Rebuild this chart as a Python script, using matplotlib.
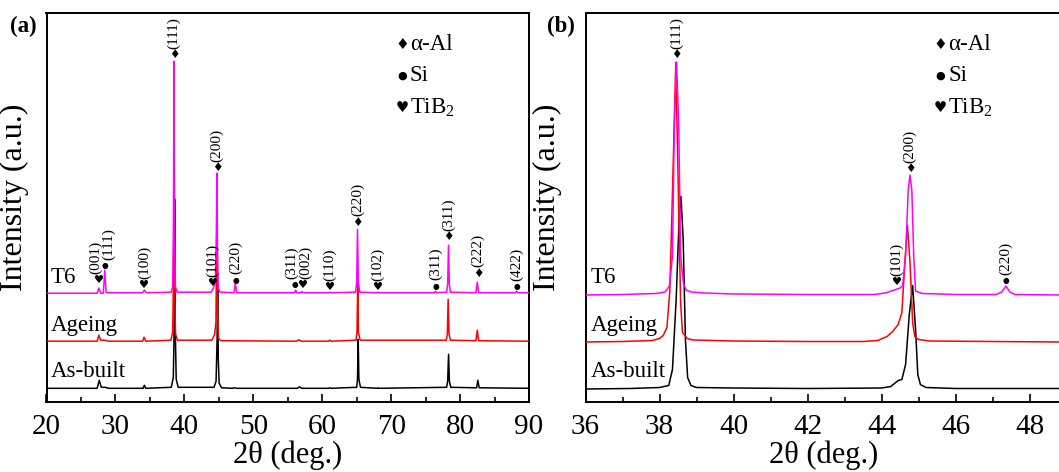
import matplotlib
matplotlib.use('Agg')
import matplotlib.pyplot as plt
from matplotlib.ticker import MultipleLocator
import matplotlib.transforms as mtransforms

plt.rcParams['font.family'] = ['Liberation Serif', 'DejaVu Sans']
plt.rcParams['mathtext.default'] = 'regular'

# ---------------- panel (a): full scan, 20-90 deg ----------------
a_t6_x = [20.0, 27.35, 27.6, 27.85, 28.25, 28.45, 28.65, 33.95, 34.2, 34.45,
          38.1, 38.3, 38.42, 38.5, 38.58, 38.7, 38.95, 43.9, 44.2, 44.5,
          44.62, 44.72, 44.8, 44.92, 45.2, 47.2, 47.4, 47.6, 56.0, 56.15,
          56.3, 56.9, 57.05, 57.25, 60.9, 61.1, 61.3, 64.85, 65.0, 65.12,
          65.24, 65.45, 67.9, 68.1, 68.3, 76.3, 76.45, 76.6, 78.05, 78.2,
          78.32, 78.44, 78.6, 82.3, 82.5, 82.7, 88.05, 88.2, 88.4, 90.0]
a_t6_y = [1, 1, 6, 1, 1, 24, 1.5, 1.5, 4, 1.5,
          2, 8, 60, 233, 60, 8, 2, 2, 6, 12,
          50, 121, 50, 6, 2, 1.5, 11, 1.5, 1.5, 4,
          1.5, 1.5, 2.5, 1.5, 1.5, 2, 1.5, 2, 12, 65,
          12, 2, 1.5, 2, 1.5, 1.5, 3, 1.5, 2, 10,
          49, 10, 2, 1.5, 12, 1.5, 1.5, 3, 1.5, 1.5]

a_age_x = [20.0, 27.35, 27.6, 27.85, 28.4, 29.0, 33.95, 34.15, 34.4, 38.05,
           38.3, 38.42, 38.5, 38.58, 38.72, 39.0, 44.0, 44.4, 44.58, 44.7,
           44.8, 44.95, 45.3, 56.3, 56.6, 56.9, 60.9, 61.1, 61.3, 64.9,
           65.05, 65.15, 65.25, 65.5, 78.0, 78.15, 78.27, 78.4, 78.6, 82.3,
           82.5, 82.7, 90.0]
a_age_y = [1, 1, 7, 2, 2, 1, 1, 5, 1, 2,
           10, 60, 254, 60, 8, 2, 2, 8, 20, 111,
           30, 4, 1.5, 1, 2.5, 1, 1, 2, 1, 2,
           10, 60, 10, 2, 2, 8, 43, 8, 2, 1.5,
           12, 1.5, 1]

a_ab_x = [20.0, 27.35, 27.65, 27.95, 28.5, 29.0, 34.0, 34.2, 34.4, 38.1,
          38.4, 38.52, 38.6, 38.68, 38.82, 39.1, 44.3, 44.6, 44.75, 44.83,
          44.92, 45.05, 45.4, 47.0, 47.3, 47.6, 56.4, 56.7, 57.0, 60.9,
          61.1, 61.3, 65.0, 65.12, 65.22, 65.32, 65.55, 68.0, 68.1, 68.2,
          78.05, 78.2, 78.33, 78.45, 78.65, 82.4, 82.58, 82.78, 90.0]
a_ab_y = [1, 1, 9, 2, 2, 1, 1, 4, 1, 2,
          12, 60, 190, 60, 10, 2, 2, 8, 50, 105,
          30, 6, 1.5, 1, 1.5, 1, 1, 2.5, 1, 1,
          1.5, 1, 2, 10, 50, 10, 2, 1, 1.5, 1,
          2, 8, 35, 8, 2, 1.5, 9, 1.5, 1]

# ---------------- panel (b): zoom, 36-49 deg ----------------
b_t6_x = [36.0, 37.0, 37.9, 38.15, 38.27, 38.35, 38.4, 38.46, 38.52, 38.57,
          38.65, 38.72, 38.85, 39.2, 40.0, 42.0, 43.8, 44.1, 44.35, 44.5,
          44.57, 44.65, 44.72, 44.77, 44.82, 44.87, 44.92, 45.1, 46.0, 47.1,
          47.25, 47.36, 47.47, 47.6, 48.85]
b_t6_y = [1, 1.5, 2.5, 4, 10, 40, 170, 234, 170, 40,
          12, 6, 4, 3, 2, 1.5, 1.5, 3, 6, 8,
          10, 40, 105, 121, 105, 40, 5, 2.5, 1.5, 1.5,
          4, 10, 4, 1.5, 1]

b_age_x = [36.0, 37.0, 37.8, 38.0, 38.1, 38.2, 38.28, 38.35, 38.44, 38.51,
           38.57, 38.62, 38.75, 38.9, 40.0, 42.0, 43.5, 43.9, 44.15, 44.3,
           44.45, 44.55, 44.63, 44.7, 44.77, 44.84, 44.9, 45.0, 45.3, 47.0,
           48.85]
b_age_y = [0.5, 1, 2, 4, 7, 15, 52, 150, 280, 150,
           40, 10, 4, 2.5, 1.5, 1, 1, 2, 6, 11,
           18, 30, 80, 117, 80, 20, 6, 3, 1.5, 1,
           0.5]

b_ab_x = [36.0, 37.2, 37.6, 38.0, 38.25, 38.35, 38.45, 38.53, 38.58, 38.64,
          38.7, 38.76, 38.85, 39.0, 40.0, 42.0, 44.0, 44.25, 44.45, 44.55,
          44.65, 44.75, 44.84, 44.92, 44.98, 45.05, 45.2, 46.0, 48.85]
b_ab_y = [0.5, 1, 1.5, 2, 4, 20, 90, 170, 193, 150,
          50, 12, 4, 2, 1.5, 1, 1.5, 3, 9, 10,
          25, 75, 104, 60, 15, 5, 2, 1, 1]

sample_names = ['As-built', 'Ageing', 'T6']
sample_colors = ['black', '#FF0000', '#FF00FF']
offsets_a = [12.4, 59.5, 107.5]
offsets_b = [12.2, 59.2, 105.7]

# peak labels: (2theta, phase, hkl, marker height, label 2theta)
peaks_a = [
    (38.5, 'Al', '(111)', 346.7, 38.5),
    (44.75, 'Al', '(200)', 234.0, 44.75),
    (65.15, 'Al', '(220)', 179.7, 65.15),
    (78.35, 'Al', '(311)', 165.0, 78.35),
    (82.6, 'Al', '(222)', 128.4, 82.6),
    (28.45, 'Si', '(111)', 136.0, 28.95),
    (47.45, 'Si', '(220)', 121.7, 47.45),
    (56.1, 'Si', '(311)', 116.7, 55.5),
    (76.45, 'Si', '(311)', 115.7, 76.45),
    (88.2, 'Si', '(422)', 115.0, 88.2),
    (27.55, 'TiB2', '(001)', 121.7, 27.2),
    (34.2, 'TiB2', '(100)', 116.7, 34.3),
    (44.15, 'TiB2', '(101)', 119.0, 44.15),
    (57.15, 'TiB2', '(002)', 116.7, 57.6),
    (61.1, 'TiB2', '(110)', 115.0, 61.1),
    (68.1, 'TiB2', '(102)', 115.0, 68.1),
]
peaks_b = [
    (38.45, 'Al', '(111)', 346.7, 38.45),
    (44.77, 'Al', '(200)', 232.7, 44.77),
    (44.42, 'TiB2', '(101)', 120.0, 44.42),
    (47.36, 'Si', '(220)', 121.0, 47.36),
]

phase_glyph = {'Al': '\u2666', 'Si': '\u25CF', 'TiB2': '\u2665'}
glyph_size = {'Al': 8.5, 'Si': 5.5, 'TiB2': 8}
legend_labels = [('Al', '\u03b1-Al'), ('Si', 'Si'), ('TiB2', 'TiB$_2$')]

W, H = 1059, 472
fig = plt.figure(figsize=(W / 100, H / 100), dpi=100)
bottom = (H - 401.7) / H
height = 389.2 / H
axA = fig.add_axes([46.5 / W, bottom, 482.5 / W, height])
axB = fig.add_axes([585.5 / W, bottom, 475.5 / W, height])


def draw_panel(ax, traces, offsets, peaks, xlim, major, minor, name_x, leg_x):
    for (xs, ys), off, col, z in zip(traces, offsets, sample_colors, [2, 3, 4]):
        ax.plot(xs, [v + off for v in ys], color=col, lw=1.1, zorder=z)
    ax.set_xlim(*xlim)
    ax.set_ylim(0, 389.2)
    ax.set_yticks([])
    ax.xaxis.set_major_locator(MultipleLocator(major))
    ax.xaxis.set_minor_locator(MultipleLocator(minor))
    ax.tick_params(axis='x', which='major', direction='in', length=6, width=1.2,
                   labelsize=21, pad=9)
    ax.tick_params(axis='x', which='minor', direction='in', length=3.5, width=1.2)
    for sp in ax.spines.values():
        sp.set_linewidth(1.4)
    ax.set_xlabel('2\u03b8 (deg.)', fontsize=22, labelpad=0)
    ax.set_ylabel('Intensity (a.u.)', fontsize=23)

    tr = mtransforms.blended_transform_factory(ax.transAxes, ax.transData)
    for name, yb in zip(sample_names, [25.0, 70.5, 118.4]):
        ax.text(name_x, yb, name, fontsize=16.5, transform=tr, va='baseline', ha='left')

    for x, ph, hkl, ym, lx in peaks:
        ax.text(x, ym, phase_glyph[ph], fontsize=glyph_size[ph], ha='center',
                va='center', family='DejaVu Sans', zorder=6)
        ax.text(lx, ym + 6, hkl, fontsize=11, rotation=90, ha='center',
                va='bottom', zorder=6)

    for (ph, lab), yy in zip(legend_labels, [0.9165, 0.837, 0.755]):
        ax.text(leg_x, yy, phase_glyph[ph], fontsize=glyph_size[ph] + 2.5,
                ha='center', va='center', family='DejaVu Sans', transform=ax.transAxes)
        ax.text(leg_x + 0.016, yy, lab, fontsize=16.5, ha='left', va='center',
                transform=ax.transAxes)


draw_panel(axA, [(a_ab_x, a_ab_y), (a_age_x, a_age_y), (a_t6_x, a_t6_y)],
           offsets_a, peaks_a, (20, 90), 10, 5, 0.008, 0.737)
draw_panel(axB, [(b_ab_x, b_ab_y), (b_age_x, b_age_y), (b_t6_x, b_t6_y)],
           offsets_b, peaks_b, (36, 48.85), 2, 1, 0.011, 0.747)
axB.spines['right'].set_visible(False)
axA.yaxis.set_label_coords(-0.036, 0.525)
axB.yaxis.set_label_coords(-0.05, 0.525)

fig.text(10 / W, 1 - 26 / H, '(a)', fontsize=16.5, fontweight='bold', va='center')
fig.text(547 / W, 1 - 26 / H, '(b)', fontsize=16.5, fontweight='bold', va='center')

fig.savefig('out.png', dpi=100)
